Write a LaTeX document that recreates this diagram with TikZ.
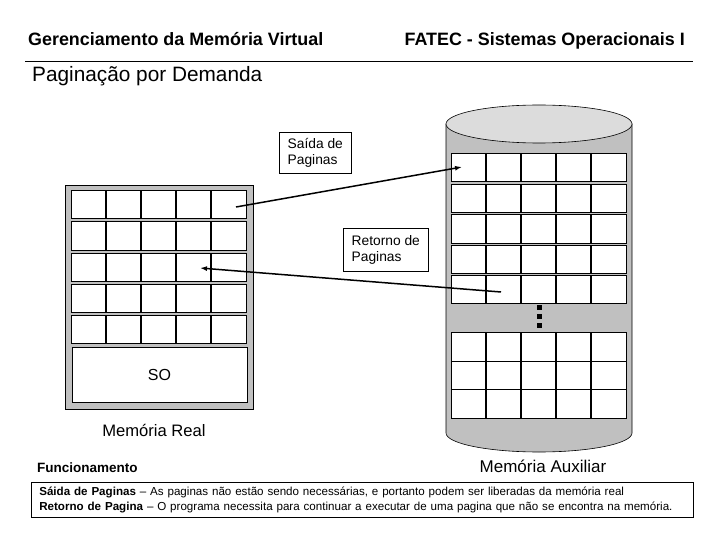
\documentclass[tikz,border=0pt]{standalone}
\usepackage{fontspec}
\setmainfont{Liberation Sans}
\usetikzlibrary{arrows.meta}
\definecolor{memgray}{HTML}{C0C0C0}
\definecolor{topgray}{HTML}{DCDCDC}
\tikzset{
  pagerow/.style={draw=black, fill=white, line width=1pt},
  cellline/.style={draw=black, line width=1.5pt},
  labelbox/.style={draw=black, fill=white, line width=0.6pt, align=left, inner sep=3pt, font=\fontsize{13.8}{16.5}\selectfont},
  flow/.style={line width=1.5pt, -{Latex[length=7pt,width=5pt]}},
}
\newcommand\gridrow[3]{%
  \draw[pagerow] (#1,#2) rectangle (#1+175,#3);
  \foreach \k in {1,2,3,4}{\draw[cellline] (#1+35*\k,#2) -- (#1+35*\k,#3);}
}
\begin{document}
\begin{tikzpicture}[x=1pt,y=-1pt]
\useasboundingbox[fill=white] (0,0) rectangle (720,540);

% header
\node[anchor=base west, inner sep=0, font=\bfseries\fontsize{17.9}{21}\selectfont] (title) at (28,46) {Gerenciamento da Memória Virtual};
\node[anchor=base east, inner sep=0, font=\bfseries\fontsize{17.9}{21}\selectfont] (fatec) at (685,46) {FATEC - Sistemas Operacionais I};
\draw[line width=0.8pt] (25,61) -- (693,61);
\node[anchor=base west, inner sep=0, font=\fontsize{20.8}{24}\selectfont] (sub) at (32,82) {Paginação por Demanda};

% real memory
\draw[fill=memgray, line width=0.6pt] (65,185) rectangle (253,409);
\gridrow{71}{191}{219}
\gridrow{71}{222}{250}
\gridrow{71}{253}{281}
\gridrow{71}{284}{312}
\gridrow{71}{315}{343}
\node[draw=black, fill=white, line width=0.8pt, minimum width=175pt, minimum height=55pt, inner sep=0, font=\fontsize{16}{19}\selectfont] (so) at (159.5,374.5) {SO};
\node[font=\fontsize{16.6}{20}\selectfont] (realLbl) at (154,430) {Memória Real};

% auxiliary memory (cylinder)
\draw[fill=memgray, line width=0.6pt] (446,124) -- (446,433) arc[start angle=180, end angle=360, x radius=93pt, y radius=19pt] -- (632,124) -- cycle;
\draw[fill=topgray, line width=0.6pt] (539,124) ellipse [x radius=93pt, y radius=19pt];
\gridrow{451}{154}{182}
\gridrow{451}{184.5}{212.5}
\gridrow{451}{215}{243}
\gridrow{451}{245}{273}
\gridrow{451}{275}{303}
\foreach \yy in {305,314,323}{\fill[black] (537,\yy) rectangle (542,\yy+5);}
\draw[pagerow] (451,332) rectangle (626,418);
\foreach \k in {1,2,3,4}{\draw[cellline] (451+35*\k,332) -- (451+35*\k,418);}
\draw[pagerow] (451,361) -- (626,361);
\draw[pagerow] (451,389) -- (626,389);
\node[font=\fontsize{17}{20}\selectfont] (auxLbl) at (543,466) {Memória Auxiliar};

% labels
\node[labelbox, minimum width=72pt, minimum height=41pt, anchor=north west] (saida) at (279,132) {Saída de\\Paginas};
\node[labelbox, minimum width=85pt, minimum height=43pt, anchor=north west] (retorno) at (343,228) {Retorno de\\Paginas};

% arrows
\coordinate (saidaFrom) at (236,207);
\coordinate (saidaTo) at (462,167);
\coordinate (retFrom) at (501,292);
\coordinate (retTo) at (200,268);
\draw[flow] (saidaFrom) -- (saidaTo);
\draw[flow] (retFrom) -- (retTo);

% footer
\node[anchor=base west, inner sep=0, font=\bfseries\fontsize{13.5}{16}\selectfont] (func) at (37,472) {Funcionamento};
\node[draw=black, line width=0.6pt, anchor=north west, minimum width=662pt, minimum height=35pt, text width=656pt, align=left, inner sep=0pt, font=\fontsize{11.6}{15}\selectfont] (desc) at (31,482)
  {\hspace*{5pt}\textbf{Sáida de Paginas} – As paginas não estão sendo necessárias, e portanto podem ser liberadas da memória real\\
   \hspace*{5pt}\textbf{Retorno de Pagina} – O programa necessita para continuar a executar de uma pagina que não se encontra na memória.};
\end{tikzpicture}
\end{document}
